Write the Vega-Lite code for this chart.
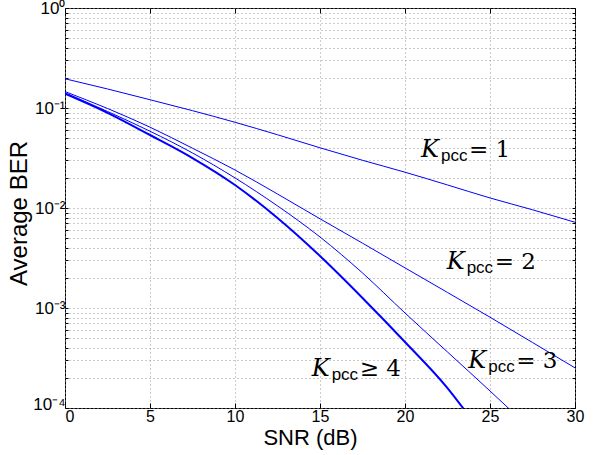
{
  "$schema": "https://vega.github.io/schema/vega-lite/v6.json",
  "width": 510,
  "height": 400,
  "autosize": {"type": "none"},
  "padding": {"left": 65, "top": 8, "right": 22, "bottom": 47},
  "background": "white",
  "config": {
    "view": {"stroke": "black", "strokeWidth": 1},
    "axis": {"labelFont": "Liberation Sans", "titleFont": "Liberation Sans", "labelColor": "black", "titleColor": "black", "labelFontSize": 16, "titleFontSize": 24, "titleFontWeight": "normal", "domain": false, "tickColor": "black"}
  },
  "datasets": {
    "curves": [
      {"snr": 0, "ber": 0.196, "K": "K=1"},
      {"snr": 2.5, "ber": 0.155, "K": "K=1"},
      {"snr": 5, "ber": 0.121, "K": "K=1"},
      {"snr": 7.5, "ber": 0.094, "K": "K=1"},
      {"snr": 10, "ber": 0.072, "K": "K=1"},
      {"snr": 12.5, "ber": 0.054, "K": "K=1"},
      {"snr": 15, "ber": 0.040, "K": "K=1"},
      {"snr": 17.5, "ber": 0.030, "K": "K=1"},
      {"snr": 20, "ber": 0.0228, "K": "K=1"},
      {"snr": 22.5, "ber": 0.017, "K": "K=1"},
      {"snr": 25, "ber": 0.0126, "K": "K=1"},
      {"snr": 27.5, "ber": 0.0096, "K": "K=1"},
      {"snr": 30, "ber": 0.0072, "K": "K=1"},
      {"snr": 0, "ber": 0.146, "K": "K=2"},
      {"snr": 2.5, "ber": 0.0989, "K": "K=2"},
      {"snr": 5, "ber": 0.0643, "K": "K=2"},
      {"snr": 7.5, "ber": 0.0396, "K": "K=2"},
      {"snr": 10, "ber": 0.0240, "K": "K=2"},
      {"snr": 12.5, "ber": 0.0138, "K": "K=2"},
      {"snr": 15, "ber": 0.0078, "K": "K=2"},
      {"snr": 17.5, "ber": 0.00445, "K": "K=2"},
      {"snr": 20, "ber": 0.00252, "K": "K=2"},
      {"snr": 22.5, "ber": 0.00143, "K": "K=2"},
      {"snr": 25, "ber": 0.000809, "K": "K=2"},
      {"snr": 27.5, "ber": 0.000452, "K": "K=2"},
      {"snr": 30, "ber": 0.000252, "K": "K=2"},
      {"snr": 0, "ber": 0.142, "K": "K=3"},
      {"snr": 2.5, "ber": 0.0923, "K": "K=3"},
      {"snr": 5, "ber": 0.0586, "K": "K=3"},
      {"snr": 7.5, "ber": 0.0355, "K": "K=3"},
      {"snr": 10, "ber": 0.0200, "K": "K=3"},
      {"snr": 12.5, "ber": 0.0105, "K": "K=3"},
      {"snr": 15, "ber": 0.00513, "K": "K=3"},
      {"snr": 17.5, "ber": 0.00224, "K": "K=3"},
      {"snr": 20, "ber": 0.000891, "K": "K=3"},
      {"snr": 22.5, "ber": 0.000363, "K": "K=3"},
      {"snr": 25, "ber": 0.000148, "K": "K=3"},
      {"snr": 26.2, "ber": 0.0000955, "K": "K=3"},
      {"snr": 0, "ber": 0.139, "K": "K≥4"},
      {"snr": 2.5, "ber": 0.0895, "K": "K≥4"},
      {"snr": 5, "ber": 0.0537, "K": "K≥4"},
      {"snr": 7.5, "ber": 0.0316, "K": "K≥4"},
      {"snr": 10, "ber": 0.0170, "K": "K≥4"},
      {"snr": 12.5, "ber": 0.00794, "K": "K≥4"},
      {"snr": 15, "ber": 0.00331, "K": "K≥4"},
      {"snr": 17.5, "ber": 0.00126, "K": "K≥4"},
      {"snr": 20, "ber": 0.000457, "K": "K≥4"},
      {"snr": 22.5, "ber": 0.000158, "K": "K≥4"},
      {"snr": 23.5, "ber": 0.0000955, "K": "K≥4"}
    ],
    "labels": [
      {"snr": 20.94, "ber": 0.032, "rel": "= 1"},
      {"snr": 22.45, "ber": 0.00247, "rel": "= 2"},
      {"snr": 23.72, "ber": 0.000252, "rel": "= 3"},
      {"snr": 14.51, "ber": 0.000211, "rel": "≥ 4"}
    ]
  },
  "layer": [
    {
      "data": {"name": "curves"},
      "transform": [{"filter": "datum.K != 'K≥4'"}],
      "mark": {"type": "line", "color": "#0000ff", "clip": true, "strokeWidth": 1, "interpolate": "monotone"},
      "encoding": {
        "x": {"field": "snr", "type": "quantitative",
          "scale": {"domain": [0, 30], "nice": false, "zero": false},
          "axis": {"orient": "bottom", "title": "SNR (dB)", "titleX": 245, "titleFontSize": 22, "values": [0, 5, 10, 15, 20, 25, 30], "grid": true, "gridDash": [1, 3], "gridColor": "#999999", "tickSize": -5, "labelPadding": 5, "titlePadding": 3, "labelFlush": false,
            "labelAlign": {"condition": {"test": "datum.value == 0", "value": "left"}, "value": "center"}}},
        "y": {"field": "ber", "type": "quantitative",
          "scale": {"type": "log", "domain": [0.0001, 1], "nice": false},
          "axis": {"orient": "left", "title": "Average BER", "titleY": 205,
            "values": [0.0001, 0.0002, 0.0003, 0.0004, 0.0005, 0.0006, 0.0007, 0.0008, 0.0009, 0.001, 0.002, 0.003, 0.004, 0.005, 0.006, 0.007, 0.008, 0.009, 0.01, 0.02, 0.03, 0.04, 0.05, 0.06, 0.07, 0.08, 0.09, 0.1, 0.2, 0.3, 0.4, 0.5, 0.6, 0.7, 0.8, 0.9, 1],
            "labelExpr": "datum.value == 1 ? '10⁰' : datum.value == 0.1 ? '10⁻¹' : datum.value == 0.01 ? '10⁻²' : datum.value == 0.001 ? '10⁻³' : datum.value == 0.0001 ? '10⁻⁴' : ''",
            "labelFontSize": 17,
            "labelOffset": {"condition": {"test": "datum.value == 0.0001", "value": -4}, "value": 0},
            "grid": true, "gridDash": [1, 3], "gridColor": "#999999", "tickSize": -3, "labelPadding": 3, "titlePadding": 1, "labelFlush": false, "labelOverlap": false}},
        "detail": {"field": "K", "type": "nominal"}
      }
    },
    {
      "data": {"name": "curves"},
      "transform": [{"filter": "datum.K == 'K≥4'"}],
      "mark": {"type": "line", "color": "#0000ff", "clip": true, "strokeWidth": 2, "interpolate": "monotone"},
      "encoding": {
        "x": {"field": "snr", "type": "quantitative", "axis": null},
        "y": {"field": "ber", "type": "quantitative", "scale": {"type": "log"}, "axis": null}
      }
    },
    {
      "data": {"name": "curves"},
      "mark": {"type": "point", "opacity": 0},
      "encoding": {
        "x": {"field": "snr", "type": "quantitative", "axis": {"orient": "top", "title": null, "labels": false, "values": [0, 5, 10, 15, 20, 25, 30], "grid": false, "tickSize": -5}},
        "y": {"field": "ber", "type": "quantitative", "scale": {"type": "log"}, "axis": {"orient": "right", "title": null, "labels": false, "values": [0.0001, 0.0002, 0.0003, 0.0004, 0.0005, 0.0006, 0.0007, 0.0008, 0.0009, 0.001, 0.002, 0.003, 0.004, 0.005, 0.006, 0.007, 0.008, 0.009, 0.01, 0.02, 0.03, 0.04, 0.05, 0.06, 0.07, 0.08, 0.09, 0.1, 0.2, 0.3, 0.4, 0.5, 0.6, 0.7, 0.8, 0.9, 1], "grid": false, "tickSize": -3}}
      }
    },
    {
      "data": {"name": "labels"},
      "mark": {"type": "text", "text": "K", "font": "DejaVu Serif", "fontStyle": "italic", "fontSize": 24, "align": "left", "baseline": "alphabetic", "color": "black"},
      "encoding": {
        "x": {"field": "snr", "type": "quantitative", "axis": null},
        "y": {"field": "ber", "type": "quantitative", "scale": {"type": "log"}, "axis": null}
      }
    },
    {
      "data": {"name": "labels"},
      "mark": {"type": "text", "text": "pcc", "font": "Liberation Sans", "fontSize": 17, "align": "left", "baseline": "alphabetic", "dx": 20, "dy": 4, "color": "black"},
      "encoding": {
        "x": {"field": "snr", "type": "quantitative", "axis": null},
        "y": {"field": "ber", "type": "quantitative", "scale": {"type": "log"}, "axis": null}
      }
    },
    {
      "data": {"name": "labels"},
      "mark": {"type": "text", "font": "DejaVu Serif", "fontSize": 23, "align": "left", "baseline": "alphabetic", "dx": 48, "color": "black"},
      "encoding": {
        "x": {"field": "snr", "type": "quantitative", "axis": null},
        "y": {"field": "ber", "type": "quantitative", "scale": {"type": "log"}, "axis": null},
        "text": {"field": "rel", "type": "nominal"}
      }
    }
  ],
  "resolve": {"axis": {"x": "independent", "y": "independent"}}
}
